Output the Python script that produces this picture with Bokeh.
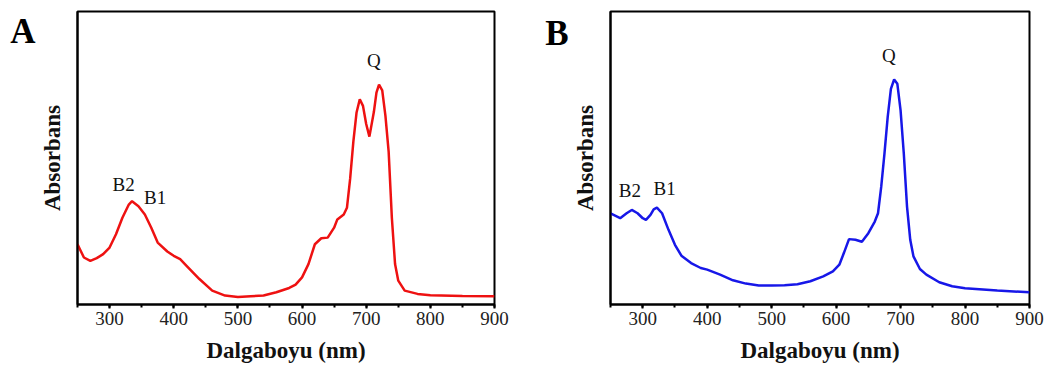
from bokeh.plotting import figure
from bokeh.layouts import row
from bokeh.models import Label, SingleIntervalTicker, FixedTicker, Range1d
from bokeh.embed import file_html
from bokeh.resources import INLINE

# Panel A spectrum (wavelength nm, absorbance a.u.)
wl_a = [250, 260, 270, 280, 290, 300, 310, 320, 330, 335, 345, 355, 365, 375, 390, 400, 410,
        420, 440, 460, 480, 500, 520, 540, 560, 580, 590, 600, 610, 620, 630, 640, 650, 655,
        665, 670, 675, 680, 685, 690, 695, 700, 705, 712, 716, 720, 725, 730, 735, 740, 745,
        750, 760, 780, 800, 850, 900]
abs_a = [0.182, 0.142, 0.132, 0.140, 0.152, 0.172, 0.212, 0.262, 0.302, 0.312, 0.297, 0.272,
         0.232, 0.187, 0.160, 0.147, 0.137, 0.117, 0.077, 0.042, 0.027, 0.023, 0.025, 0.027,
         0.037, 0.050, 0.060, 0.082, 0.122, 0.182, 0.200, 0.202, 0.232, 0.257, 0.272, 0.292,
         0.380, 0.492, 0.580, 0.620, 0.600, 0.545, 0.507, 0.582, 0.640, 0.664, 0.647, 0.570,
         0.462, 0.262, 0.122, 0.072, 0.042, 0.032, 0.028, 0.026, 0.025]

# Panel B spectrum
wl_b = [250, 265, 275, 283, 292, 300, 305, 312, 317, 322, 330, 340, 350, 360, 375, 390, 400,
        420, 440, 460, 480, 500, 520, 540, 560, 580, 595, 605, 612, 620, 630, 640, 650, 660,
        665, 670, 675, 680, 685, 690, 695, 700, 705, 710, 715, 720, 730, 740, 760, 780, 800,
        850, 900]
abs_b = [0.275, 0.260, 0.275, 0.285, 0.275, 0.260, 0.255, 0.270, 0.287, 0.292, 0.275, 0.225,
         0.180, 0.147, 0.125, 0.110, 0.105, 0.090, 0.073, 0.063, 0.057, 0.057, 0.058, 0.061,
         0.070, 0.085, 0.100, 0.120, 0.155, 0.197, 0.195, 0.189, 0.215, 0.250, 0.275, 0.355,
         0.455, 0.565, 0.650, 0.678, 0.665, 0.585, 0.455, 0.295, 0.195, 0.145, 0.107, 0.090,
         0.067, 0.055, 0.049, 0.042, 0.037]

x_ticks_interval = 100
x_label = "Dalgaboyu (nm)"
y_label = "Absorbans"
panel_letters = ["A", "B"]

labels_a = [("B2", 322, 0.362), ("B1", 371, 0.322), ("Q", 712, 0.737)]
labels_b = [("B2", 280, 0.345), ("B1", 334, 0.350), ("Q", 682, 0.750)]

SERIF = "Liberation Serif"
H = 380


def letter_fig(letter, width, lx, ly):
    f = figure(width=width, height=H, output_backend="svg", toolbar_location=None,
               x_range=Range1d(0, 1), y_range=Range1d(0, 1), min_border=0)
    f.axis.visible = False
    f.grid.visible = False
    f.outline_line_color = None
    f.background_fill_color = "white"
    f.border_fill_color = "white"
    f.add_layout(Label(x=lx, y=ly, text=letter, text_font=SERIF, text_font_size="35px",
                       text_font_style="bold", text_color="black",
                       text_align="center", text_baseline="middle"))
    return f


def make_panel(wl, ab, color, labels, width, left, right, top, frame_h, ymax, standoff):
    p = figure(width=width, height=H, output_backend="svg", toolbar_location=None,
               x_range=Range1d(250, 900), y_range=Range1d(0, ymax),
               min_border_left=left, min_border_right=right, min_border_top=top,
               min_border_bottom=H - top - frame_h)
    p.background_fill_color = "white"
    p.border_fill_color = "white"
    p.grid.visible = False
    p.outline_line_color = "black"
    p.outline_line_width = 2
    p.outline_line_alpha = 1

    p.line(wl, ab, line_color=color, line_width=2.5)

    xa = p.xaxis[0]
    xa.ticker = SingleIntervalTicker(interval=x_ticks_interval, num_minor_ticks=2)
    xa.axis_line_width = 2
    xa.major_tick_in = 0
    xa.major_tick_out = 4
    xa.minor_tick_in = 0
    xa.minor_tick_out = 3
    xa.major_tick_line_width = 2
    xa.minor_tick_line_width = 2
    xa.major_label_text_font = SERIF
    xa.major_label_text_font_size = "19px"
    xa.major_label_text_color = "#222222"
    xa.major_label_standoff = 3
    xa.axis_label = x_label
    xa.axis_label_text_font = SERIF
    xa.axis_label_text_font_style = "bold"
    xa.axis_label_text_font_size = "23px"
    xa.axis_label_text_color = "#111111"
    xa.axis_label_standoff = 10

    ya = p.yaxis[0]
    ya.ticker = FixedTicker(ticks=[])
    ya.axis_line_width = 2
    ya.major_tick_line_color = None
    ya.minor_tick_line_color = None
    ya.axis_label = y_label
    ya.axis_label_text_font = SERIF
    ya.axis_label_text_font_style = "bold"
    ya.axis_label_text_font_size = "23px"
    ya.axis_label_text_color = "#111111"
    ya.axis_label_standoff = standoff

    for txt, x, y in labels:
        p.add_layout(Label(x=x, y=y, text=txt, text_font=SERIF, text_font_size="19px",
                           text_color="#111111", text_align="center", text_baseline="middle"))
    return p


la = letter_fig(panel_letters[0], 36, 0.625, 0.9316)
pa = make_panel(wl_a, abs_a, "#ee1111", labels_a, 489, 39, 31, 9, 295, 0.885, 13)
lb = letter_fig(panel_letters[1], 44, 0.716, 0.926)
pb = make_panel(wl_b, abs_b, "#1717e8", labels_b, 477, 40, 17, 11, 294, 0.883, 13)

layout = row(la, pa, lb, pb, spacing=0)
open("out.html", "w").write(file_html(layout, INLINE))
